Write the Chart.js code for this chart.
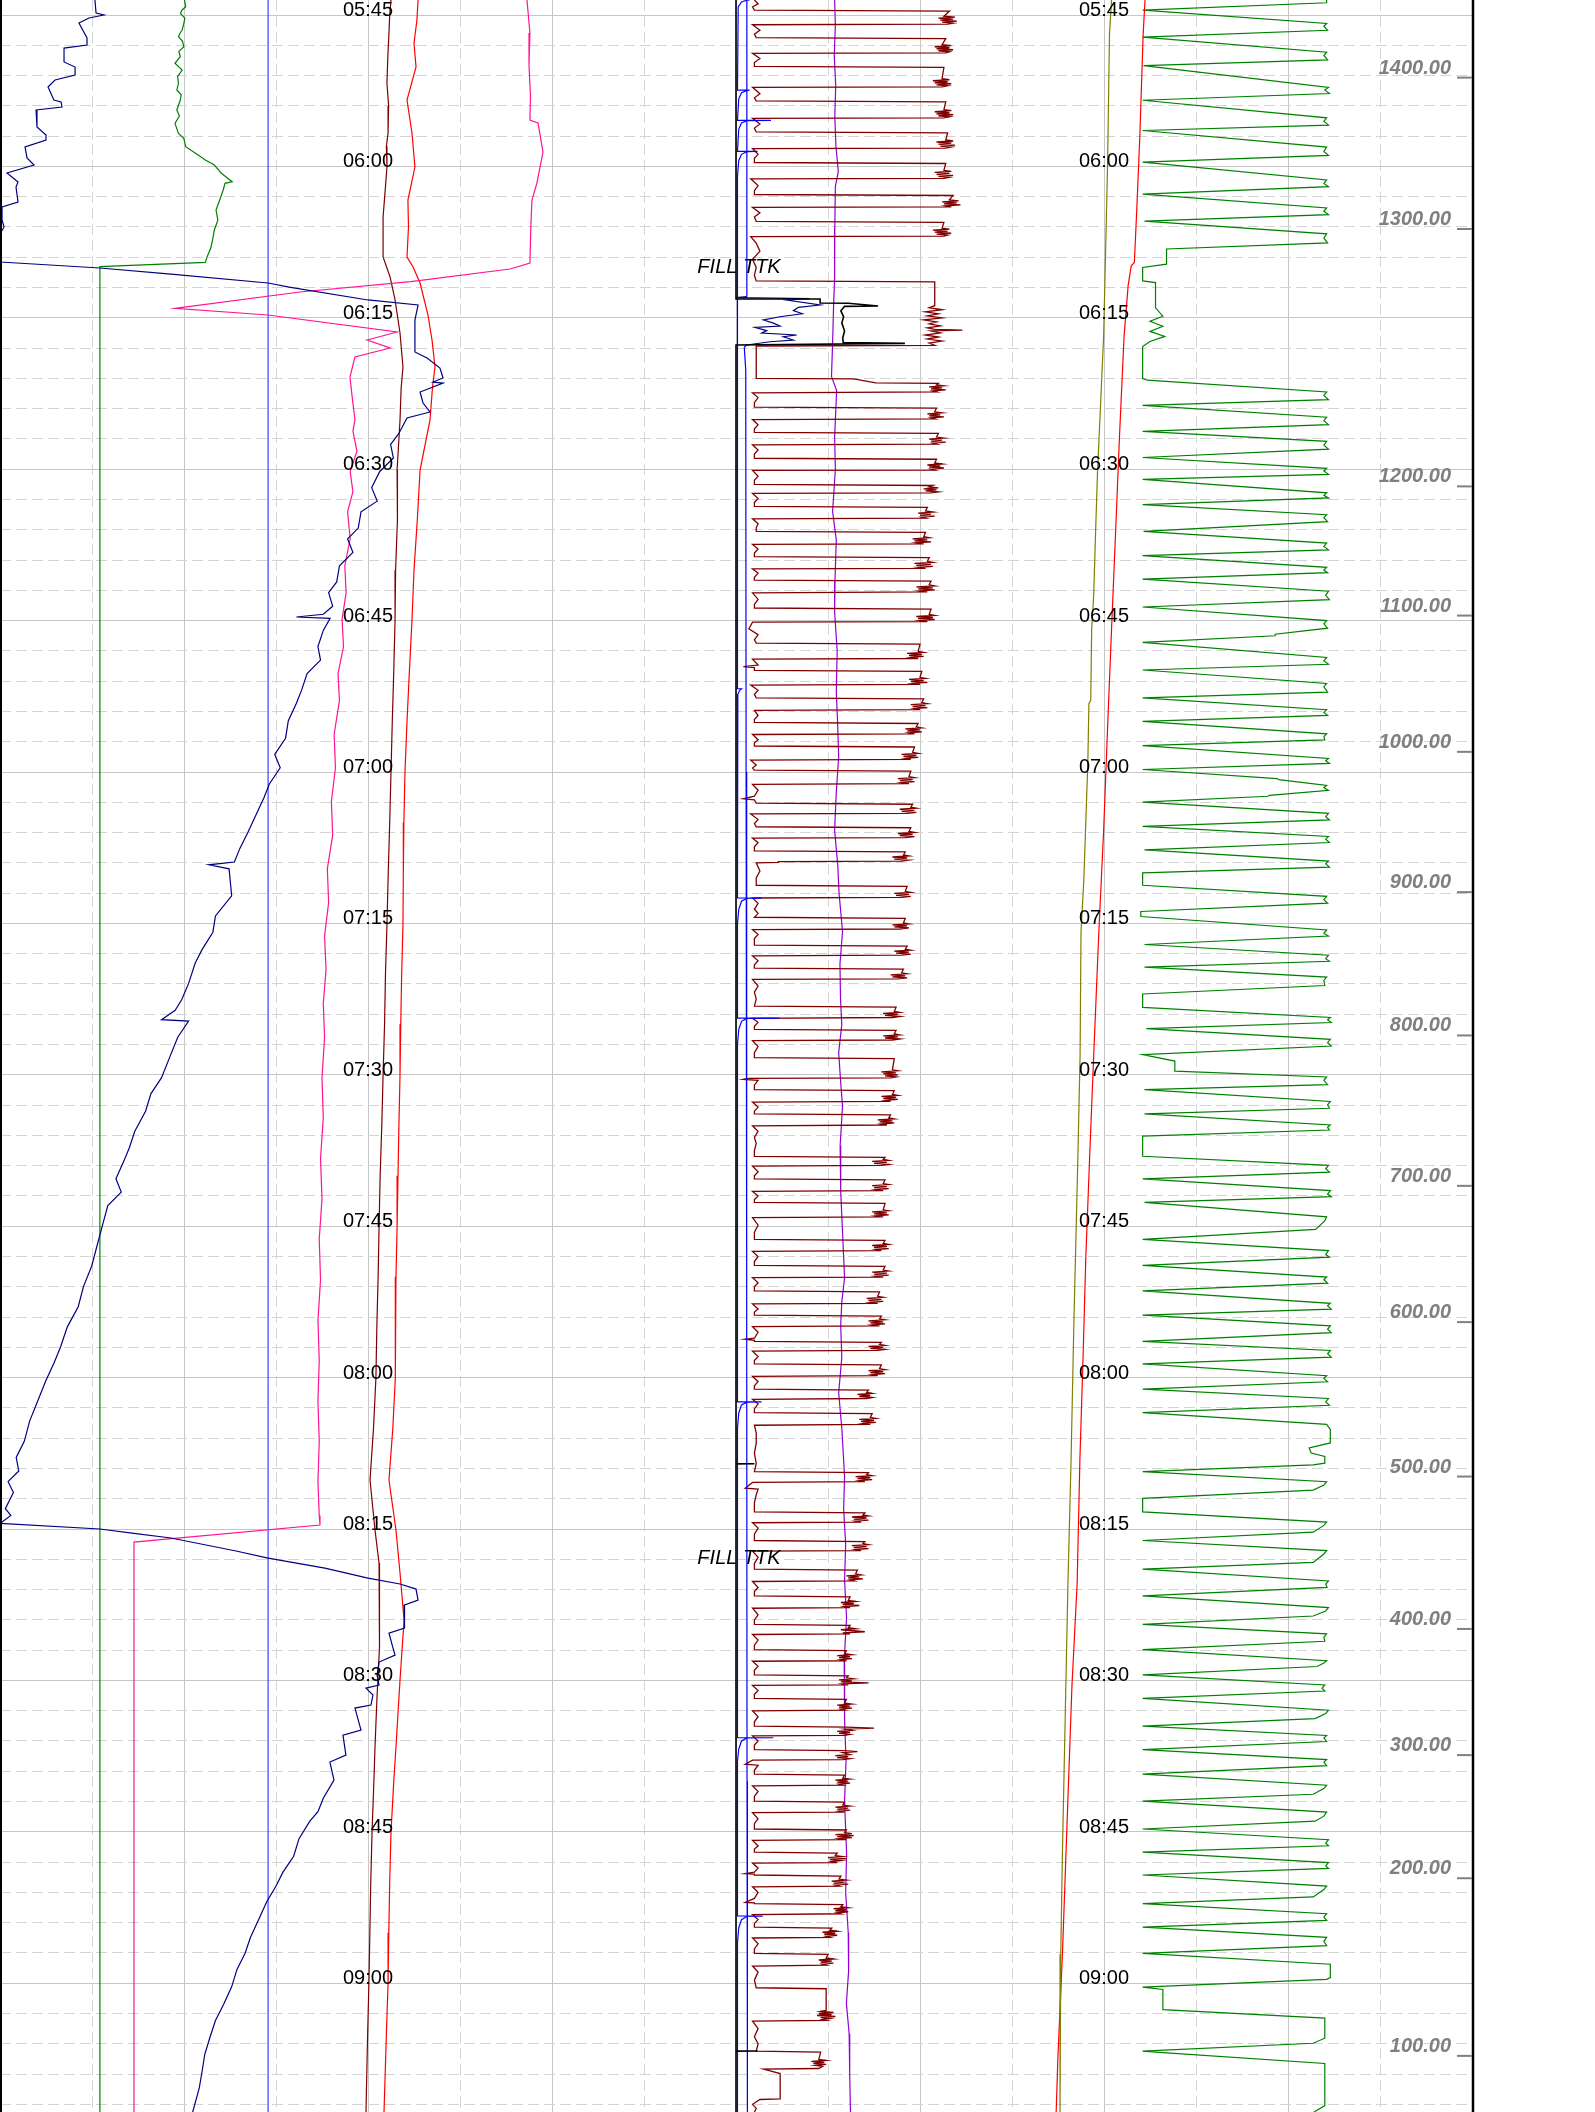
<!DOCTYPE html>
<html>
<head>
<meta charset="utf-8">
<title>Trip out log 05:45 - 09:00</title>
<script src="https://cdn.jsdelivr.net/npm/chart.js@4.4.1/dist/chart.umd.min.js"></script>
<style>
  html, body { margin: 0; padding: 0; background: #fff; }
  #wrap { width: 1595px; height: 2112px; }
</style>
</head>
<body>
<div id="wrap"><canvas id="logChart" width="1595" height="2112"></canvas></div>
<script>
// time axis: minutes after midnight, x axis: track divisions (0..8)
const timeTicks = [345, 360, 375, 390, 405, 420, 435, 450, 465, 480, 495, 510, 525, 540];
const timeLabels = ['05:45', '06:00', '06:15', '06:30', '06:45', '07:00', '07:15', '07:30', '07:45', '08:00', '08:15', '08:30', '08:45', '09:00'];
const labelCols = [2, 6];
const minorCols = [0.5, 1.5, 2.5, 3.5, 4.5, 5.5, 6.5, 7.5];

const depthValues = [1400, 1300, 1200, 1100, 1000, 900, 800, 700, 600, 500, 400, 300, 200, 100];
const depthTimes = [351.2, 366.2, 391.7, 404.5, 418.0, 431.9, 446.1, 461.0, 474.5, 489.8, 504.9, 517.4, 529.6, 547.2];

const noteTexts = ['FILL TTK', 'FILL TTK'];
const noteTimes = [370.6, 498.5];
const noteCol = 3.79;

// [minutes, division]
const navyTrack1 = [
  [343.51,0.516],[344.80,0.522],[345.00,0.565],[345.29,0.484],[345.79,0.429],[347.27,0.473],[347.97,0.473],[348.27,0.348],
  [349.65,0.348],[350.15,0.408],[350.94,0.408],[351.44,0.299],[352.13,0.261],[353.42,0.293],[353.62,0.332],[354.11,0.337],
  [354.41,0.196],[356.09,0.201],[356.89,0.250],[357.38,0.250],[358.07,0.136],[359.16,0.147],[359.86,0.185],[360.65,0.038],
  [361.54,0.098],[362.04,0.087],[363.52,0.098],[364.02,0.011],[365.31,0.011],[366.00,0.022],[367.29,-0.02],[369.40,-0.01],
  [369.47,0.0],[370.06,0.543],[370.66,0.929],[371.55,1.457],[371.95,1.571],[373.23,2.0],[373.73,2.272],[375.22,2.255],
  [378.38,2.255],[378.98,2.321],[379.97,2.391],[380.96,2.408],[381.36,2.353],[381.46,2.408],[382.35,2.283],[383.44,2.299],
  [384.33,2.337],[384.92,2.212],[386.48,2.167],[387.55,2.123],[388.89,2.138],[390.22,2.064],[391.82,2.020],[393.16,2.050],
  [394.22,1.962],[395.83,1.947],[396.89,1.889],[398.23,1.918],[399.56,1.845],[401.17,1.830],[402.23,1.786],[403.57,1.808],
  [404.37,1.757],[404.64,1.611],[404.77,1.794],[405.97,1.757],[407.57,1.728],[408.91,1.742],[410.24,1.669],[411.84,1.640],
  [413.18,1.611],[414.91,1.567],[416.65,1.552],[418.25,1.493],[419.58,1.523],[421.18,1.464],[422.52,1.435],[424.26,1.391],
  [425.99,1.347],[427.59,1.303],[428.92,1.274],[429.19,1.135],[429.59,1.245],[432.26,1.259],[434.26,1.171],[435.87,1.157],
  [437.60,1.098],[438.93,1.061],[440.94,1.025],[442.54,0.988],[443.60,0.952],[444.54,0.878],[444.67,1.025],[446.27,0.966],
  [448.27,0.922],[450.28,0.878],[451.88,0.820],[453.61,0.791],[455.62,0.732],[457.22,0.703],[458.55,0.673],[460.29,0.630],
  [461.62,0.659],[462.96,0.586],[464.96,0.556],[466.96,0.527],[468.96,0.498],[470.96,0.454],[472.97,0.425],[474.97,0.366],
  [476.97,0.329],[478.57,0.293],[480.31,0.249],[482.31,0.205],[484.31,0.161],[486.31,0.132],[487.91,0.088],[489.25,0.102],
  [490.31,0.044],[491.38,0.073],[492.98,0.029],[493.65,0.059],[494.45,0.0],[495.00,0.543],[495.40,0.717],[495.89,0.929],
  [497.18,1.283],[497.88,1.457],[498.87,1.766],[499.86,2.0],[500.45,2.174],[500.95,2.261],[502.04,2.272],[502.54,2.196],
  [504.02,2.201],[504.81,2.196],[505.31,2.114],[506.80,2.136],[507.49,2.147],[508.18,2.060],[509.47,2.049],[510.46,2.060],
  [510.76,1.989],[511.45,2.027],[512.44,2.016],[512.74,1.929],[514.92,1.962],[515.42,1.864],[517.40,1.880],[518.09,1.793],
  [519.87,1.815],[521.68,1.757],[523.01,1.728],[523.95,1.684],[525.68,1.625],[527.42,1.596],[529.02,1.537],[530.35,1.501],
  [531.95,1.449],[533.69,1.406],[535.42,1.362],[537.03,1.332],[538.63,1.288],[540.36,1.259],[542.10,1.215],[543.70,1.171],
  [545.30,1.142],[547.04,1.113],[548.77,1.098],[550.37,1.083],[552.78,1.047]
];

const greenTrack1 = [
  [343.51,1.003],[344.17,1.009],[344.5,0.990],[344.83,0.980],[345.3,1.005],[345.82,0.999],[346.48,0.990],[346.8,0.978],
  [347.15,0.970],[347.6,0.992],[348.14,0.999],[348.6,0.972],[349.13,0.980],[349.78,0.951],[350.45,0.990],[351.1,0.965],
  [351.76,0.970],[352.43,0.961],[352.9,0.985],[353.42,0.980],[354.41,0.961],[355.0,0.975],[355.73,0.951],[356.72,0.970],
  [357.21,0.999],[358.04,1.009],[358.87,1.077],[359.36,1.116],[359.86,1.165],[360.68,1.203],[361.51,1.262],[361.67,1.223],
  [362.33,1.213],[363.33,1.194],[364.32,1.174],[365.31,1.184],[366.30,1.165],[367.29,1.155],[368.11,1.145],[368.94,1.126],
  [369.50,1.116],[369.93,0.543],[552.78,0.543]
];

const pinkTrack1 = [
  [343.51,2.864],[346.78,2.880],[350.0,2.875],[353.0,2.883],[355.40,2.880],[355.70,2.924],[358.57,2.951],[361.64,2.918],
  [363.33,2.891],[366.0,2.885],[369.57,2.880],[370.16,2.772],[371.42,2.232],[372.44,1.630],[374.06,0.951],[374.72,1.456],
  [376.40,2.158],[377.20,1.995],[377.99,2.120],[378.88,1.929],[380.86,1.902],[383.0,1.915],[385.12,1.929],[386.22,1.918],
  [388.22,1.940],[390.22,1.903],[392.22,1.918],[394.22,1.889],[396.89,1.903],[399.56,1.874],[402.23,1.881],[404.90,1.859],
  [407.57,1.867],[410.24,1.837],[412.91,1.845],[416.25,1.816],[419.58,1.823],[422.92,1.801],[426.26,1.808],[429.59,1.779],
  [432.93,1.786],[436.26,1.764],[439.60,1.772],[442.94,1.757],[446.27,1.764],[450.28,1.750],[454.28,1.757],[458.29,1.742],
  [462.29,1.750],[466.29,1.735],[470.30,1.742],[474.30,1.728],[478.30,1.735],[482.31,1.728],[486.31,1.735],[490.32,1.728],
  [493.65,1.735],[494.60,1.739],[496.29,0.728],[552.78,0.728]
];

const blueTrack1 = [[343.51,1.457],[552.78,1.457]];

const darkRedTrack1 = [
  [343.51,2.125],[345.0,2.118],[346.78,2.114],[349.0,2.108],[351.73,2.103],[354.0,2.112],[356.69,2.109],[358.0,2.100],
  [360.06,2.103],[362.0,2.095],[365.01,2.082],[368.97,2.082],[370.95,2.120],[373.23,2.147],[376.50,2.174],[379.87,2.190],
  [382.0,2.180],[385.12,2.174],[390.08,2.158],[395.0,2.160],[400.0,2.150],[404.94,2.147],[410.0,2.140],[415.0,2.132],
  [420.0,2.125],[425.0,2.118],[430.0,2.110],[435.16,2.103],[440.0,2.095],[445.0,2.090],[450.02,2.082],[455.0,2.075],
  [460.0,2.066],[465.18,2.060],[470.0,2.055],[475.0,2.048],[480.04,2.043],[485.0,2.030],[490.15,2.011],[495.10,2.038],
  [498.37,2.060],[501.74,2.065],[506.69,2.060],[511.65,2.049],[516.60,2.038],[520.0,2.032],[525.03,2.022],[530.0,2.015],
  [535.0,2.010],[539.98,2.005],[545.0,1.998],[552.78,1.989]
];

const redTrack1 = [
  [343.51,2.272],[345.49,2.266],[347.77,2.250],[350.15,2.261],[353.42,2.212],[356.69,2.239],[360.06,2.255],[363.33,2.217],
  [366.0,2.220],[368.97,2.212],[369.96,2.245],[371.55,2.283],[374.72,2.326],[377.20,2.348],[379.87,2.364],[382.0,2.350],
  [385.12,2.337],[390.08,2.283],[395.0,2.268],[400.0,2.250],[404.94,2.239],[410.0,2.225],[415.0,2.212],[420.0,2.201],
  [425.0,2.195],[430.0,2.192],[435.16,2.190],[440.0,2.183],[445.0,2.178],[450.02,2.174],[455.0,2.168],[460.0,2.163],
  [465.18,2.158],[470.0,2.152],[475.0,2.150],[480.04,2.147],[485.0,2.135],[490.15,2.114],[495.10,2.152],[499.36,2.174],
  [504.02,2.196],[509.96,2.174],[516.60,2.152],[520.0,2.140],[525.03,2.125],[530.0,2.118],[535.0,2.113],[539.98,2.109],
  [545.0,2.100],[552.78,2.087]
];

const blackTrack2 = [
  [343.51,4.0],[373.12,4.0],[373.13,4.457],[373.53,4.457],[373.56,4.61],[373.83,4.772],[373.86,4.59],[374.3,4.57],
  [374.9,4.585],[375.5,4.575],[376.3,4.59],[377.0,4.58],[377.46,4.583],[377.53,4.918],[377.69,4.0],[488.53,4.0],
  [488.54,4.10],[488.56,4.0],[546.71,4.0],[546.72,4.117],[546.74,4.0],[552.78,4.0]
];

const blueTrack2 = [
  [343.51,4.059],[372.9,4.059],[375.0,null],[377.9,4.045],[380.2,4.053],[420.0,4.055],[470.0,4.058],[520.0,4.060],[552.78,4.062]
];

const blueHooks = [
  [343.51,4.074],[343.53,4.06],[343.7,4.03],[344.2,4.012],[352.43,4.008],[352.44,4.074],[352.46,4.06],[352.7,4.03],
  [353.3,4.015],[355.43,4.008],[355.44,4.19],[355.46,4.06],[355.7,4.03],[356.3,4.015],[358.5,4.008],[358.51,4.117],
  [358.53,4.06],[358.8,4.03],[359.4,4.015],[361.0,4.008],[411.74,4.008],[411.75,4.03],[411.9,4.02],[412.3,4.01],
  [432.48,4.008],[432.49,4.139],[432.51,4.06],[432.8,4.03],[433.6,4.015],[435.0,4.008],[444.38,4.008],[444.39,4.235],
  [444.41,4.06],[444.7,4.03],[445.5,4.015],[447.0,4.008],[482.4,4.008],[482.41,4.139],[482.43,4.06],[482.7,4.03],
  [483.5,4.015],[485.0,4.008],[515.67,4.008],[515.68,4.203],[515.7,4.06],[516.0,4.03],[516.8,4.015],[518.0,4.008],
  [533.34,4.008],[533.35,4.145],[533.37,4.06],[533.7,4.03],[534.5,4.015],[536.0,4.008],[552.78,4.008]
];

const navyTrack2 = [
  [372.9,4.059],[373.0,4.0],[373.1,4.40],[373.23,4.275],[373.73,4.457],[373.96,4.339],[374.29,4.312],[374.6,4.36],
  [374.89,4.239],[375.21,4.149],[375.5,4.20],[375.81,4.239],[375.94,4.103],[376.27,4.167],[376.5,4.14],[376.70,4.330],
  [376.87,4.257],[377.2,4.312],[377.37,4.185],[377.69,4.058],[377.9,4.045]
];

const maroonTrack2 = [
  [343.51,4.10],[343.9,4.12],[344.2,4.09],[344.51,4.10],
  [344.61,5.16],[345.11,5.13],[345.21,5.19],[345.31,5.10],[345.41,5.18],[345.51,5.11],[345.61,5.20],[345.71,5.12],[345.81,5.18],[345.91,5.15],
  [345.96,4.09],[346.5,4.13],[346.9,4.10],[347.24,4.11],
  [347.34,5.14],[347.94,5.12],[348.04,5.17],[348.14,5.08],[348.24,5.16],[348.34,5.09],[348.44,5.18],[348.54,5.10],[348.64,5.16],[348.74,5.14],
  [348.79,4.09],[349.3,4.13],[349.7,4.10],[350.08,4.10],
  [350.18,5.13],[351.31,5.12],[351.41,5.16],[351.51,5.07],[351.61,5.15],[351.71,5.08],[351.81,5.17],[351.91,5.09],[352.01,5.15],[352.11,5.12],
  [352.16,4.09],[352.8,4.13],[353.2,4.10],[353.51,4.11],
  [353.61,5.14],[354.38,5.13],[354.48,5.17],[354.58,5.08],[354.68,5.16],[354.78,5.09],[354.88,5.18],[354.98,5.10],[355.08,5.16],[355.18,5.13],
  [355.23,4.09],[355.8,4.13],[356.2,4.10],[356.58,4.11],
  [356.68,5.15],[357.38,5.14],[357.48,5.18],[357.58,5.09],[357.68,5.17],[357.78,5.10],[357.88,5.19],[357.98,5.11],[358.08,5.17],[358.18,5.14],
  [358.23,4.09],[358.8,4.12],[359.2,4.10],[359.61,4.10],
  [359.71,5.14],[360.38,5.13],[360.48,5.17],[360.58,5.08],[360.68,5.16],[360.78,5.09],[360.88,5.18],[360.98,5.10],[361.08,5.16],[361.18,5.13],
  [361.23,4.08],[361.9,4.12],[362.4,4.10],[362.78,4.10],
  [362.88,5.18],[363.31,5.16],[363.41,5.21],[363.51,5.12],[363.61,5.20],[363.71,5.13],[363.81,5.22],[363.91,5.14],[364.01,5.17],
  [364.06,4.09],[364.6,4.13],[365.0,4.10],[365.44,4.11],
  [365.54,5.13],[366.11,5.12],[366.21,5.16],[366.31,5.07],[366.41,5.15],[366.51,5.08],[366.61,5.17],[366.71,5.09],[366.81,5.15],[366.91,5.13],
  [366.96,4.08],[367.6,4.11],[368.4,4.13],[369.2,4.09],[370.0,4.11],[370.8,4.10],[371.34,4.11],
  [371.44,5.08],[373.8,5.08],[374.0,5.05],[374.2,5.12],[374.4,5.03],[374.6,5.10],[374.8,5.04],[375.0,5.12],[375.2,5.02],[375.4,5.09],
  [375.6,5.05],[375.8,5.11],[376.0,5.04],[376.15,5.08],[376.21,5.23],[376.3,5.06],[376.5,5.11],[376.7,5.03],[376.9,5.10],[377.1,5.04],
  [377.3,5.12],[377.5,5.05],[377.72,5.08],[377.79,4.11],[379.5,4.11],[381.0,4.11],[381.05,4.64],[381.45,4.76],[381.5,5.10],
  [381.64,5.09],[381.74,5.13],[381.84,5.05],[381.94,5.12],[382.04,5.06],[382.14,5.14],[382.24,5.07],[382.34,5.09],
  [382.44,4.09],[382.9,4.12],[383.4,4.10],[383.84,4.10],
  [383.94,5.09],[384.31,5.08],[384.41,5.12],[384.51,5.04],[384.61,5.11],[384.71,5.05],[384.81,5.13],[384.91,5.06],[385.01,5.08],
  [385.08,4.09],[385.6,4.12],[386.0,4.10],[386.34,4.10],
  [386.44,5.10],[386.81,5.09],[386.91,5.13],[387.01,5.05],[387.11,5.12],[387.21,5.06],[387.31,5.14],[387.41,5.07],[387.51,5.09],
  [387.58,4.09],[388.1,4.12],[388.5,4.10],[388.91,4.10],
  [389.01,5.09],[389.38,5.08],[389.48,5.12],[389.58,5.04],[389.68,5.11],[389.78,5.05],[389.88,5.13],[389.98,5.06],[390.08,5.08],
  [390.11,4.09],[390.7,4.12],[391.1,4.10],[391.51,4.10],
  [391.61,5.07],[391.74,5.05],[391.84,5.10],[391.94,5.02],[392.04,5.09],[392.14,5.03],[392.24,5.10],[392.34,5.06],
  [392.4,4.09],[392.9,4.12],[393.3,4.10],[393.68,4.10],
  [393.78,5.04],[394.14,5.03],[394.24,5.07],[394.34,4.99],[394.44,5.06],[394.54,5.00],[394.64,5.08],[394.74,5.01],[394.84,5.03],
  [394.91,4.09],[395.4,4.12],[395.8,4.11],[396.15,4.11],
  [396.25,5.03],[396.69,5.02],[396.79,5.05],[396.89,4.96],[396.99,5.04],[397.09,4.97],[397.19,5.06],[397.29,4.98],[397.39,5.02],
  [397.45,4.09],[397.9,4.12],[398.3,4.10],[398.65,4.10],
  [398.75,5.05],[399.12,5.04],[399.22,5.07],[399.32,4.97],[399.42,5.06],[399.52,4.98],[399.62,5.07],[399.72,4.99],[399.82,5.03],
  [399.88,4.09],[400.3,4.12],[400.7,4.10],[400.99,4.10],
  [401.09,5.06],[401.45,5.05],[401.55,5.08],[401.65,4.98],[401.75,5.07],[401.85,4.99],[401.95,5.08],[402.05,5.00],[402.15,5.04],
  [402.25,4.09],[402.9,4.12],[403.4,4.10],[403.75,4.10],
  [403.85,5.06],[404.39,5.05],[404.49,5.08],[404.59,4.98],[404.69,5.07],[404.79,4.99],[404.89,5.08],[404.99,5.00],[405.09,5.04],
  [405.15,4.09],[405.8,4.07],[406.4,4.12],[406.9,4.10],[407.22,4.11],
  [407.32,5.00],[408.05,4.99],[408.15,5.02],[408.25,4.93],[408.35,5.01],[408.45,4.94],[408.55,5.02],[408.65,4.95],[408.75,4.99],
  [408.82,4.09],[409.4,4.12],[409.55,4.04],[409.65,4.10],[409.92,4.10],
  [410.02,5.01],[410.62,5.00],[410.72,5.03],[410.82,4.94],[410.92,5.02],[411.02,4.95],[411.12,5.04],[411.22,4.96],[411.32,5.00],
  [411.38,4.08],[411.9,4.12],[412.3,4.10],[412.65,4.11],
  [412.75,5.02],[413.12,5.01],[413.22,5.04],[413.32,4.95],[413.42,5.03],[413.52,4.96],[413.62,5.04],[413.72,4.97],[413.82,5.00],
  [413.9,4.10],[414.4,4.12],[414.8,4.10],[415.09,4.10],
  [415.19,4.99],[415.52,4.98],[415.62,5.01],[415.72,4.92],[415.82,5.00],[415.92,4.93],[416.02,5.01],[416.12,4.94],[416.22,4.97],
  [416.28,4.09],[416.8,4.12],[417.1,4.10],[417.42,4.10],
  [417.52,4.97],[418.05,4.96],[418.15,4.99],[418.25,4.90],[418.35,4.98],[418.45,4.91],[418.55,4.99],[418.65,4.92],[418.75,4.95],
  [418.82,4.08],[419.3,4.11],[419.6,4.09],[419.82,4.10],
  [419.92,4.95],[420.45,4.94],[420.55,4.97],[420.65,4.88],[420.75,4.96],[420.85,4.89],[420.95,4.97],[421.05,4.90],[421.15,4.94],
  [421.22,4.09],[421.8,4.12],[422.4,4.10],[422.65,4.04],[422.75,4.10],[423.09,4.11],
  [423.19,4.96],[423.49,4.95],[423.59,4.98],[423.69,4.89],[423.79,4.97],[423.89,4.90],[423.99,4.98],[424.09,4.93],
  [424.15,4.08],[424.7,4.12],[425.1,4.10],[425.42,4.11],
  [425.52,4.95],[425.89,4.94],[425.99,4.97],[426.09,4.88],[426.19,4.96],[426.29,4.89],[426.39,4.97],[426.49,4.92],
  [426.55,4.09],[427.0,4.12],[427.4,4.10],[427.82,4.10],
  [427.92,4.92],[428.22,4.91],[428.32,4.94],[428.42,4.85],[428.52,4.93],[428.62,4.86],[428.72,4.94],[428.82,4.90],
  [428.88,4.23],[428.95,4.23],[429.0,4.11],[429.8,4.13],[430.5,4.11],[431.22,4.11],
  [431.32,4.93],[431.82,4.92],[431.92,4.95],[432.02,4.86],[432.12,4.94],[432.22,4.87],[432.32,4.95],[432.42,4.90],
  [432.48,4.09],[433.0,4.12],[433.6,4.10],[434.0,4.12],[434.39,4.10],
  [434.49,4.92],[434.95,4.91],[435.05,4.94],[435.15,4.85],[435.25,4.93],[435.35,4.86],[435.45,4.94],[435.55,4.89],
  [435.62,4.09],[436.1,4.12],[436.5,4.10],[436.9,4.10],[437.15,4.10],
  [437.25,4.93],[437.55,4.92],[437.65,4.95],[437.75,4.86],[437.85,4.94],[437.95,4.87],[438.05,4.95],[438.15,4.90],
  [438.22,4.09],[438.7,4.12],[439.1,4.10],[439.42,4.10],
  [439.52,4.91],[439.89,4.90],[439.99,4.93],[440.09,4.84],[440.19,4.92],[440.29,4.85],[440.39,4.93],[440.49,4.88],
  [440.55,4.09],[441.2,4.12],[441.8,4.10],[442.5,4.11],[443.2,4.10],
  [443.3,4.87],[443.72,4.86],[443.82,4.89],[443.92,4.80],[444.02,4.88],[444.12,4.81],[444.22,4.89],[444.32,4.85],
  [444.4,4.09],[444.8,4.12],[445.2,4.10],[445.5,4.10],
  [445.6,4.87],[445.95,4.86],[446.05,4.89],[446.15,4.80],[446.25,4.88],[446.35,4.81],[446.45,4.89],[446.55,4.85],
  [446.62,4.09],[447.2,4.12],[447.8,4.10],[448.3,4.10],
  [448.4,4.86],[449.5,4.85],[449.6,4.88],[449.7,4.79],[449.8,4.87],[449.9,4.80],[450.0,4.88],[450.1,4.81],[450.2,4.87],[450.3,4.84],
  [450.35,4.07],[450.45,4.04],[450.55,4.12],[451.0,4.10],[451.47,4.10],
  [451.57,4.86],[451.94,4.85],[452.04,4.88],[452.14,4.79],[452.24,4.87],[452.34,4.80],[452.44,4.88],[452.54,4.81],[452.64,4.84],
  [452.7,4.09],[453.2,4.12],[453.6,4.10],[453.87,4.10],
  [453.97,4.84],[454.27,4.83],[454.37,4.86],[454.47,4.77],[454.57,4.85],[454.67,4.78],[454.77,4.86],[454.87,4.79],[454.97,4.82],
  [455.05,4.09],[455.6,4.12],[456.2,4.10],[456.8,4.11],[457.5,4.10],[458.07,4.10],
  [458.17,4.81],[458.37,4.80],[458.47,4.83],[458.57,4.74],[458.67,4.82],[458.77,4.75],[458.87,4.83],[458.97,4.79],
  [459.05,4.09],[459.6,4.12],[460.0,4.10],[460.31,4.10],
  [460.41,4.81],[460.77,4.80],[460.87,4.83],[460.97,4.74],[461.07,4.82],[461.17,4.75],[461.27,4.83],[461.37,4.76],[461.47,4.80],
  [461.55,4.09],[462.0,4.12],[462.35,4.10],[462.64,4.10],
  [462.74,4.81],[463.37,4.80],[463.47,4.83],[463.57,4.74],[463.67,4.82],[463.77,4.75],[463.87,4.83],[463.97,4.76],[464.07,4.80],
  [464.15,4.09],[464.9,4.12],[465.6,4.10],[466.31,4.10],
  [466.41,4.81],[466.71,4.80],[466.81,4.83],[466.91,4.74],[467.01,4.82],[467.11,4.75],[467.21,4.83],[467.31,4.76],[467.41,4.79],
  [467.5,4.09],[468.0,4.12],[468.5,4.10],[468.87,4.10],
  [468.97,4.81],[469.34,4.80],[469.44,4.83],[469.54,4.74],[469.64,4.82],[469.74,4.75],[469.84,4.83],[469.94,4.76],[470.04,4.80],
  [470.1,4.09],[470.6,4.12],[471.0,4.10],[471.41,4.10],
  [471.51,4.78],[471.94,4.77],[472.04,4.80],[472.14,4.71],[472.24,4.79],[472.34,4.72],[472.44,4.80],[472.54,4.73],[472.64,4.77],
  [472.7,4.09],[473.2,4.12],[473.5,4.10],[473.81,4.10],
  [473.91,4.79],[474.17,4.78],[474.27,4.81],[474.37,4.72],[474.47,4.80],[474.57,4.73],[474.67,4.81],[474.77,4.74],[474.87,4.78],
  [474.95,4.09],[475.5,4.12],[476.1,4.10],[476.2,4.05],[476.3,4.10],[476.41,4.10],
  [476.51,4.79],[476.71,4.78],[476.81,4.81],[476.91,4.72],[477.01,4.80],[477.11,4.73],[477.21,4.81],[477.31,4.77],
  [477.38,4.09],[477.9,4.12],[478.3,4.10],[478.64,4.10],
  [478.74,4.79],[479.11,4.78],[479.21,4.81],[479.31,4.72],[479.41,4.80],[479.51,4.73],[479.61,4.81],[479.71,4.74],[479.81,4.77],
  [479.88,4.09],[480.4,4.12],[480.8,4.10],[481.14,4.10],
  [481.24,4.72],[481.47,4.71],[481.57,4.74],[481.67,4.66],[481.77,4.73],[481.87,4.67],[481.97,4.74],[482.07,4.71],
  [482.15,4.09],[482.6,4.12],[483.1,4.10],[483.47,4.10],
  [483.57,4.74],[483.94,4.73],[484.04,4.76],[484.14,4.67],[484.24,4.75],[484.34,4.68],[484.44,4.76],[484.54,4.69],[484.64,4.73],
  [484.72,4.10],[485.5,4.11],[486.5,4.11],[487.5,4.10],[488.5,4.11],[489.31,4.10],
  [489.41,4.72],[489.61,4.71],[489.71,4.74],[489.81,4.65],[489.91,4.73],[490.01,4.66],[490.11,4.74],[490.21,4.67],[490.31,4.70],
  [490.38,4.09],[490.95,4.05],[491.05,4.12],[491.6,4.11],[492.4,4.10],[493.31,4.10],
  [493.41,4.70],[493.61,4.69],[493.71,4.72],[493.81,4.63],[493.91,4.71],[494.01,4.64],[494.11,4.72],[494.21,4.65],[494.31,4.68],
  [494.38,4.09],[494.9,4.12],[495.5,4.10],[496.14,4.10],
  [496.24,4.70],[496.44,4.69],[496.54,4.72],[496.64,4.63],[496.74,4.71],[496.84,4.64],[496.94,4.72],[497.04,4.65],[497.14,4.68],
  [497.2,4.09],[497.8,4.12],[498.4,4.10],[498.97,4.10],
  [499.07,4.66],[499.44,4.65],[499.54,4.68],[499.64,4.60],[499.74,4.67],[499.84,4.61],[499.94,4.69],[500.04,4.62],[500.14,4.64],
  [500.2,4.09],[500.8,4.12],[501.2,4.10],[501.62,4.10],
  [501.72,4.62],[502.08,4.61],[502.18,4.65],[502.28,4.57],[502.38,4.64],[502.48,4.58],[502.58,4.67],[502.68,4.59],[502.78,4.62],
  [502.85,4.09],[503.5,4.12],[504.0,4.10],[504.45,4.10],
  [504.55,4.62],[504.78,4.61],[504.88,4.65],[504.98,4.57],[505.08,4.64],[505.18,4.70],[505.28,4.58],[505.38,4.62],
  [505.45,4.09],[506.0,4.12],[506.5,4.10],[506.95,4.10],
  [507.05,4.60],[507.35,4.59],[507.45,4.63],[507.55,4.55],[507.65,4.62],[507.75,4.56],[507.85,4.63],[507.95,4.57],[508.05,4.60],
  [508.1,4.09],[508.6,4.12],[509.0,4.10],[509.45,4.10],
  [509.55,4.61],[509.75,4.60],[509.85,4.64],[509.95,4.56],[510.05,4.63],[510.15,4.57],[510.25,4.72],[510.35,4.58],[510.45,4.61],
  [510.5,4.09],[511.0,4.12],[511.4,4.10],[511.78,4.10],
  [511.88,4.60],[512.25,4.59],[512.35,4.63],[512.45,4.55],[512.55,4.62],[512.65,4.56],[512.75,4.63],[512.85,4.57],[512.95,4.59],
  [513.02,4.09],[513.6,4.12],[514.1,4.10],[514.52,4.10],
  [514.62,4.60],[514.72,4.75],[514.82,4.59],[514.95,4.63],[515.05,4.55],[515.15,4.62],[515.25,4.56],[515.35,4.62],[515.45,4.59],
  [515.5,4.09],[516.0,4.12],[516.4,4.10],[516.85,4.10],
  [516.95,4.59],[517.05,4.66],[517.15,4.58],[517.35,4.62],[517.45,4.54],[517.55,4.61],[517.65,4.55],[517.75,4.62],[517.85,4.58],
  [517.9,4.09],[518.3,4.05],[518.4,4.12],[518.9,4.10],[519.28,4.10],
  [519.38,4.59],[519.68,4.58],[519.78,4.62],[519.88,4.54],[519.98,4.61],[520.08,4.55],[520.18,4.62],[520.28,4.56],[520.38,4.58],
  [520.45,4.09],[521.0,4.12],[521.5,4.10],[521.95,4.10],
  [522.05,4.59],[522.35,4.58],[522.45,4.62],[522.55,4.54],[522.65,4.61],[522.75,4.55],[522.85,4.62],[522.95,4.56],[523.05,4.59],
  [523.1,4.09],[523.7,4.12],[524.2,4.10],[524.72,4.10],
  [524.82,4.60],[525.08,4.59],[525.18,4.63],[525.28,4.54],[525.38,4.64],[525.48,4.55],[525.58,4.63],[525.68,4.56],[525.78,4.60],
  [525.85,4.09],[526.4,4.12],[526.7,4.10],[527.02,4.10],
  [527.12,4.55],[527.35,4.54],[527.45,4.58],[527.55,4.50],[527.65,4.60],[527.75,4.51],[527.85,4.57],[527.95,4.52],[528.05,4.55],
  [528.1,4.09],[528.6,4.12],[529.0,4.10],[529.15,4.05],[529.2,4.10],[529.28,4.10],
  [529.38,4.57],[529.68,4.56],[529.78,4.60],[529.88,4.52],[529.98,4.59],[530.08,4.53],[530.18,4.61],[530.28,4.54],[530.38,4.56],
  [530.45,4.09],[531.0,4.12],[531.6,4.10],[532.0,4.05],[532.05,4.10],[532.12,4.10],
  [532.22,4.58],[532.42,4.57],[532.52,4.61],[532.62,4.53],[532.72,4.60],[532.82,4.54],[532.92,4.61],[533.02,4.55],[533.12,4.57],
  [533.2,4.09],[533.7,4.12],[534.1,4.10],[534.45,4.10],
  [534.55,4.52],[534.75,4.51],[534.85,4.55],[534.95,4.47],[535.05,4.54],[535.15,4.48],[535.25,4.55],[535.35,4.49],[535.45,4.51],
  [535.52,4.09],[536.1,4.12],[536.6,4.10],[537.05,4.10],
  [537.15,4.50],[537.5,4.49],[537.6,4.53],[537.7,4.45],[537.8,4.52],[537.9,4.46],[538.0,4.53],[538.1,4.47],[538.2,4.49],
  [538.3,4.09],[538.9,4.12],[539.7,4.10],[540.45,4.11],
  [540.55,4.49],[542.7,4.49],[542.8,4.46],[542.9,4.53],[543.0,4.45],[543.1,4.52],[543.2,4.44],[543.3,4.54],[543.4,4.46],[543.5,4.51],[543.6,4.47],[543.68,4.49],
  [543.75,4.09],[544.5,4.12],[545.3,4.10],[546.0,4.12],[546.72,4.11],
  [546.82,4.46],[547.55,4.45],[547.65,4.49],[547.75,4.41],[547.85,4.48],[547.95,4.42],[548.05,4.49],[548.15,4.43],[548.25,4.47],[548.45,4.45],
  [548.5,4.15],[548.95,4.24],[551.45,4.24],[551.52,4.13],[552.0,4.09],[552.4,4.11],[552.78,4.10]
];

const purpleTrack2 = [
  [343.51,4.536],[346.0,4.540],[349.0,4.534],[352.0,4.542],[355.0,4.537],[358.0,4.543],[360.5,4.556],[362.0,4.540],
  [366.0,4.537],[371.0,4.536],[374.0,4.530],[377.5,4.525],[380.8,4.519],[382.2,4.547],[386.8,4.536],[390.0,4.540],
  [394.2,4.525],[397.0,4.545],[401.0,4.538],[404.2,4.536],[408.0,4.550],[412.0,4.545],[415.0,4.552],[418.5,4.558],
  [422.0,4.545],[425.8,4.536],[429.2,4.553],[432.0,4.560],[435.8,4.579],[439.0,4.565],[442.5,4.568],[445.0,4.575],
  [447.8,4.558],[451.0,4.570],[453.1,4.579],[457.0,4.566],[461.5,4.569],[466.0,4.580],[470.1,4.590],[472.5,4.575],
  [474.8,4.569],[478.0,4.575],[481.5,4.558],[485.0,4.575],[489.8,4.590],[493.0,4.585],[496.5,4.596],[500.1,4.590],
  [503.8,4.601],[508.0,4.588],[513.8,4.590],[518.0,4.598],[522.0,4.590],[527.1,4.601],[531.0,4.596],[535.0,4.610],
  [538.8,4.612],[542.0,4.600],[545.0,4.615],[549.0,4.618],[552.78,4.622]
];

const oliveTrack3 = [
  [343.51,6.041],[346.84,6.030],[360.18,6.019],[376.84,5.998],[390.18,5.965],[395.8,5.955],[402.49,5.944],[405.82,5.933],
  [412.9,5.928],[413.2,5.918],[419.15,5.912],[430.82,5.890],[435.82,5.875],[448.1,5.870],[458.14,5.858],[474.81,5.836],
  [488.14,5.821],[500.43,5.804],[513.78,5.789],[527.12,5.774],[537.12,5.765],[552.78,5.761]
];

const redTrack3 = [
  [343.51,6.223],[346.84,6.213],[356.84,6.195],[363.51,6.180],[369.51,6.165],[369.84,6.148],[371.84,6.131],[376.84,6.109],
  [386.84,6.084],[395.8,6.064],[405.82,6.041],[415.82,6.019],[425.82,5.998],[435.82,5.972],[448.1,5.944],[458.14,5.922],
  [468.14,5.901],[478.14,5.886],[488.14,5.869],[500.43,5.854],[510.45,5.826],[523.78,5.800],[537.12,5.774],[547.12,5.750],
  [552.78,5.740]
];

const greenTrack3 = [
  [343.51,7.21],[343.78,7.21],[344.51,6.21],
  [345.84,7.21],[346.11,7.195],[346.51,7.215],[347.18,6.21],
  [348.68,7.21],[349.01,7.195],[349.44,7.215],[350.01,6.215],
  [352.18,7.22],[352.44,7.20],[352.78,7.225],[353.44,6.21],
  [355.18,7.21],[355.51,7.195],[355.91,7.22],[356.44,6.21],
  [358.08,7.21],[358.51,7.195],[358.91,7.22],[359.58,6.21],
  [361.34,7.21],[361.68,7.195],[362.01,7.22],[362.74,6.21],
  [364.11,7.21],[364.44,7.195],[364.78,7.22],[365.41,6.22],
  [366.68,7.21],[367.11,7.195],[367.58,7.215],
  [368.18,6.34],[369.68,6.34],[370.01,6.21],[371.34,6.21],[371.51,6.28],[374.01,6.28],
  [374.84,6.32],[375.34,6.25],[375.84,6.32],[376.34,6.25],[376.84,6.33],[377.34,6.25],[377.84,6.21],[381.01,6.21],[381.18,6.235],
  [382.34,7.21],[382.68,7.195],[383.11,7.22],[383.68,6.21],
  [384.84,7.21],[385.18,7.195],[385.58,7.22],[386.24,6.21],
  [387.24,7.21],[387.61,7.195],[388.01,7.22],[388.84,6.21],
  [389.91,7.21],[390.18,7.195],[390.51,7.22],[391.01,6.21],
  [392.34,7.21],[392.58,7.195],[392.84,7.22],[393.51,6.21],
  [394.51,7.21],[394.8,7.195],[395.2,7.215],[396.15,6.215],
  [397.32,7.21],[397.65,7.195],[397.99,7.22],[398.55,6.21],
  [399.72,7.21],[399.99,7.195],[400.25,7.215],[400.89,6.21],
  [402.09,7.22],[402.49,7.205],[402.92,7.225],[403.65,6.21],
  [404.99,7.21],[405.32,7.195],[405.75,7.215],[406.35,6.93],[406.5,6.93],[407.15,6.21],
  [408.65,7.21],[408.99,7.195],[409.32,7.22],[409.89,6.21],
  [411.22,7.21],[411.55,7.195],[412.09,7.215],[412.65,6.21],
  [413.82,7.21],[414.09,7.195],[414.39,7.215],[414.99,6.21],
  [416.22,7.21],[416.49,7.195],[416.82,7.20],[417.39,6.21],
  [418.65,7.22],[418.89,7.205],[419.15,7.225],[419.75,6.21],
  [420.65,6.94],[420.75,6.95],[421.32,7.21],[421.55,7.195],[421.82,7.22],[422.32,6.90],[422.4,6.89],[422.99,6.21],
  [424.09,7.22],[424.42,7.205],[424.75,7.225],[425.39,6.21],
  [426.39,7.22],[426.65,7.205],[426.99,7.225],[427.72,6.22],
  [428.82,7.22],[429.09,7.205],[429.42,7.225],[429.99,6.21],[431.22,6.21],
  [432.32,7.21],[432.65,7.195],[432.99,7.215],[433.82,6.20],[434.32,6.20],
  [435.65,7.21],[435.99,7.195],[436.25,7.22],[437.09,6.22],
  [438.15,7.22],[438.49,7.205],[438.75,7.225],[439.32,6.22],
  [440.32,7.21],[440.65,7.195],[441.15,7.20],[441.99,6.21],[443.32,6.21],
  [444.32,7.23],[444.55,7.215],[444.82,7.235],[445.42,6.23],
  [446.49,7.23],[446.82,7.215],[447.15,7.235],[448.0,6.21],
  [448.64,6.385],[449.64,6.385],
  [450.21,7.21],[450.54,7.195],[450.97,7.215],[451.47,6.22],
  [452.64,7.23],[452.97,7.215],[453.31,7.225],[453.87,6.22],
  [454.97,7.23],[455.21,7.215],[455.47,7.225],[456.07,6.21],[458.07,6.21],
  [458.97,7.22],[459.31,7.205],[459.64,7.225],[460.31,6.21],
  [461.47,7.23],[461.81,7.215],[462.07,7.235],[462.64,6.22],
  [464.07,7.21],[464.47,7.20],[465.31,7.15],[466.31,6.21],
  [467.41,7.22],[467.81,7.205],[468.07,7.225],[468.87,6.21],
  [470.04,7.21],[470.31,7.195],[470.64,7.215],[471.41,6.21],
  [472.64,7.23],[472.87,7.215],[473.21,7.235],[473.81,6.21],
  [474.87,7.23],[475.21,7.215],[475.54,7.235],[476.41,6.21],
  [477.31,7.23],[477.64,7.215],[477.97,7.235],[478.64,6.21],
  [479.81,7.21],[480.07,7.195],[480.41,7.215],[481.14,6.21],
  [482.07,7.22],[482.41,7.205],[482.74,7.225],[483.47,6.21],
  [484.64,7.21],[485.14,7.23],[486.47,7.23],[486.97,7.115],[487.47,7.126],[487.81,7.20],[488.47,7.20],[488.64,7.137],[489.31,6.21],
  [490.31,7.21],[490.64,7.195],[491.14,7.137],[491.97,6.21],[493.31,6.21],
  [494.31,7.21],[494.64,7.195],[495.31,7.137],[496.14,6.21],
  [497.14,7.21],[497.47,7.195],[498.31,7.137],[498.97,6.21],
  [500.14,7.22],[500.45,7.205],[500.78,7.212],[501.62,6.21],
  [502.78,7.22],[503.12,7.205],[503.62,7.137],[504.45,6.21],
  [505.38,7.21],[505.72,7.195],[506.12,7.20],[506.95,6.21],
  [508.05,7.21],[508.28,7.195],[508.62,7.158],[509.45,6.21],
  [510.45,7.20],[510.78,7.185],[511.05,7.20],[511.78,6.21],
  [512.95,7.22],[513.28,7.205],[513.78,7.147],[514.52,6.21],
  [515.45,7.21],[515.72,7.195],[516.05,7.21],[516.85,6.21],
  [517.85,7.21],[518.12,7.195],[518.45,7.21],[519.28,6.21],
  [520.38,7.21],[520.72,7.195],[521.28,7.137],[521.95,6.21],
  [523.05,7.21],[523.45,7.195],[523.95,7.147],[524.72,6.21],
  [525.78,7.22],[526.12,7.205],[526.38,7.22],[527.02,6.21],
  [528.05,7.22],[528.38,7.205],[528.62,7.22],[529.28,6.21],
  [530.38,7.21],[530.72,7.195],[531.45,7.137],[532.12,6.21],
  [533.12,7.21],[533.45,7.195],[533.78,7.21],[534.45,6.21],
  [535.45,7.21],[535.85,7.195],[536.28,7.21],[537.05,6.21],
  [538.12,7.23],[539.45,7.23],[539.62,7.21],[540.38,6.21],
  [540.62,6.32],[542.62,6.32],[543.45,7.20],[545.45,7.20],[545.95,7.137],[546.72,6.21],
  [546.85,6.30],[547.95,7.20],[552.12,7.20],[552.78,7.14]
];

// minor (dashed) time grid every 3 minutes between the quarter hours
const minorTimes = [];
for (let t = 342; t <= 552; t += 3) {
  if (t > 343.51 && !timeTicks.includes(t)) minorTimes.push(t);
}

function toPoints(rows) {
  return rows.map(r => ({ x: r[1], y: r[0] }));
}

function curve(label, rows, color, width) {
  return {
    label: label,
    data: toPoints(rows),
    borderColor: color,
    borderWidth: width || 1.2,
    pointRadius: 0,
    fill: false,
    tension: 0
  };
}

const logText = {
  id: 'logText',
  afterDatasetsDraw(chart) {
    const ctx = chart.ctx;
    const area = chart.chartArea;
    const xs = chart.scales.x;
    const ys = chart.scales.y;
    ctx.save();

    // track borders
    ctx.strokeStyle = '#000';
    ctx.lineWidth = 2;
    ctx.beginPath();
    ctx.moveTo(area.left + 1, area.top);
    ctx.lineTo(area.left + 1, area.bottom);
    ctx.stroke();
    ctx.lineWidth = 2.5;
    ctx.beginPath();
    ctx.moveTo(area.right + 1, area.top);
    ctx.lineTo(area.right + 1, area.bottom);
    ctx.stroke();

    // time labels
    ctx.fillStyle = '#000';
    ctx.font = '20px "Liberation Sans", Arial, sans-serif';
    ctx.textAlign = 'center';
    ctx.textBaseline = 'alphabetic';
    timeTicks.forEach((t, i) => {
      const py = ys.getPixelForValue(t) + 1;
      labelCols.forEach(c => ctx.fillText(timeLabels[i], xs.getPixelForValue(c), py));
    });

    // remarks
    ctx.font = 'italic 20px "Liberation Sans", Arial, sans-serif';
    ctx.textAlign = 'left';
    noteTimes.forEach((t, i) => {
      ctx.fillText(noteTexts[i], xs.getPixelForValue(noteCol), ys.getPixelForValue(t));
    });

    // depth marks
    ctx.font = 'italic bold 20px "Liberation Sans", Arial, sans-serif';
    ctx.fillStyle = '#808080';
    ctx.strokeStyle = '#808080';
    ctx.lineWidth = 2;
    ctx.textAlign = 'right';
    depthTimes.forEach((t, i) => {
      const py = ys.getPixelForValue(t);
      ctx.fillText(depthValues[i].toFixed(2), area.right - 21, py - 4);
      ctx.beginPath();
      ctx.moveTo(area.right - 15, py);
      ctx.lineTo(area.right, py);
      ctx.stroke();
    });
    ctx.restore();
  }
};

const chart = new Chart(document.getElementById('logChart'), {
  type: 'line',
  data: {
    datasets: [
      curve('Block', navyTrack1, '#000080'),
      curve('Flow', greenTrack1, '#008000'),
      curve('Pit', pinkTrack1, '#ff1493'),
      curve('Ref', blueTrack1, '#4040ff'),
      curve('Torque', darkRedTrack1, '#7f0000'),
      curve('RPM', redTrack1, '#ff0000'),
      curve('Pump', blackTrack2, '#000000', 1.6),
      curve('SPP', blueTrack2, '#0000ff'),
      curve('Slips', blueHooks, '#0000ff'),
      curve('Fill', navyTrack2, '#000080'),
      curve('Hookload', maroonTrack2, '#800000', 1.3),
      curve('Trip tank', purpleTrack2, '#9400d3'),
      curve('Gain', oliveTrack3, '#808000'),
      curve('Loss', redTrack3, '#ff0000'),
      curve('Bit position', greenTrack3, '#008000')
    ]
  },
  options: {
    responsive: false,
    animation: false,
    devicePixelRatio: 1,
    events: [],
    layout: { autoPadding: false, padding: { left: 0, right: 123, top: 0, bottom: 0 } },
    plugins: { legend: { display: false }, tooltip: { enabled: false } },
    scales: {
      x: {
        type: 'linear', min: 0, max: 8,
        ticks: { display: false, stepSize: 1 },
        grid: { color: '#c6c6c6', lineWidth: 1, drawTicks: false },
        border: { display: false }
      },
      xMinor: {
        type: 'linear', position: 'bottom', min: 0, max: 8,
        afterBuildTicks: s => { s.ticks = minorCols.map(v => ({ value: v })); },
        ticks: { display: false },
        grid: { color: '#d4d4d4', lineWidth: 1, drawTicks: false },
        border: { display: false, dash: [11, 5] }
      },
      y: {
        type: 'linear', min: 343.51, max: 552.76, reverse: true,
        afterBuildTicks: s => { s.ticks = timeTicks.map(v => ({ value: v })); },
        ticks: { display: false },
        grid: { color: '#c6c6c6', lineWidth: 1, drawTicks: false },
        border: { display: false }
      },
      yMinor: {
        type: 'linear', position: 'left', min: 343.51, max: 552.76, reverse: true,
        afterBuildTicks: s => { s.ticks = minorTimes.map(v => ({ value: v })); },
        ticks: { display: false },
        grid: { color: '#d4d4d4', lineWidth: 1, drawTicks: false },
        border: { display: false, dash: [11, 5] }
      }
    }
  },
  plugins: [logText]
});
</script>
</body>
</html>
